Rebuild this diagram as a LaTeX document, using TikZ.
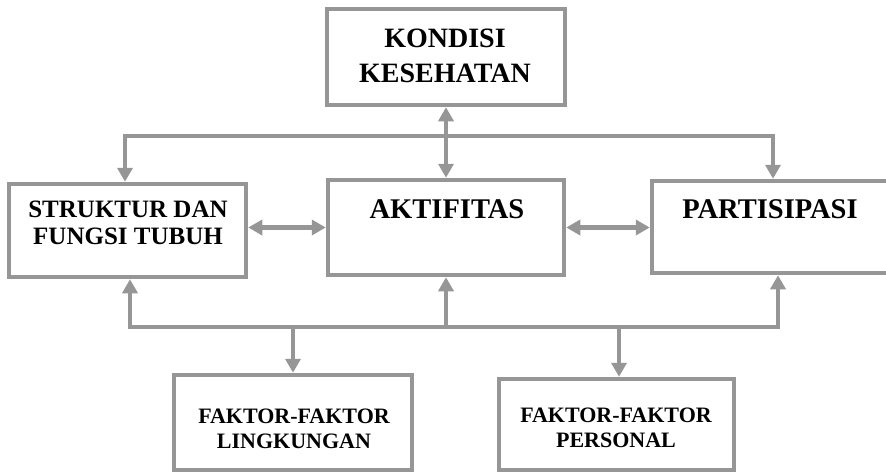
\documentclass[tikz,border=0pt]{standalone}
\usepackage{fontspec}
\setmainfont{Liberation Serif}
\usetikzlibrary{arrows.meta,positioning,calc}
\definecolor{linegray}{RGB}{150,150,150}
\tikzset{
  box/.style={draw=linegray, line width=4.5pt, fill=white, inner sep=0pt},
  boxtext/.style={anchor=north, inner sep=0pt, align=center},
  link/.style={draw=linegray, line width=4.5pt},
  >={Triangle[length=14pt,width=15pt]},
}

\begin{document}
\begin{tikzpicture}[x=1pt,y=-1pt]
\useasboundingbox (0,0) rectangle (886,474);

% boxes
\node[box, minimum width=238pt, minimum height=96pt] (kond) at (446,57) {};
\node[box, minimum width=237pt, minimum height=93pt] (stru) at (127.5,230.5) {};
\node[box, minimum width=236pt, minimum height=95pt] (akt) at (446,227.5) {};
\node[box, minimum width=250pt, minimum height=92pt] (part) at (777,227) {};
\node[box, minimum width=238pt, minimum height=95pt] (ling) at (293,422.5) {};
\node[box, minimum width=235pt, minimum height=91pt] (pers) at (616.5,424.5) {};

% texts
\node[boxtext, font=\bfseries\fontsize{28}{35}\selectfont] (kond-t) at (445,28.5) {KONDISI\\KESEHATAN};
\node[boxtext, font=\bfseries\fontsize{25}{27}\selectfont] (stru-t) at (128,200.5) {STRUKTUR DAN\\FUNGSI TUBUH};
\node[boxtext, font=\bfseries\fontsize{28.5}{34}\selectfont] (akt-t) at (447,199) {AKTIFITAS};
\node[boxtext, font=\bfseries\fontsize{28.5}{34}\selectfont] (part-t) at (770,199) {PARTISIPASI};
\node[boxtext, font=\bfseries\fontsize{22}{25.5}\selectfont] (ling-t) at (294,408.5) {FAKTOR-FAKTOR\\LINGKUNGAN};
\node[boxtext, font=\bfseries\fontsize{22}{25.5}\selectfont] (pers-t) at (616,407.5) {FAKTOR-FAKTOR\\PERSONAL};

% bus ends
\coordinate (tl) at (125,136);
\coordinate (tr) at (773,136);
\coordinate (bl) at (130,327);
\coordinate (br) at (778,327);

% upper connectors
\draw[link,<->] (tl |- stru.north) -- (tl) -- (tr) -- (tr |- part.north);
\draw[link,<->] (kond.south) -- (kond.south |- akt.north);

% side connectors
\draw[link,<->] (akt.west -| stru.east) -- (akt.west);
\draw[link,<->] (akt.east) -- (akt.east -| part.west);

% lower connectors
\draw[link,<->] (bl |- stru.south) -- (bl) -- (br) -- (br |- part.south);
\draw[link,->] (akt.south |- bl) -- (akt.south);
\draw[link,->] (ling.north |- bl) -- (ling.north);
\draw[link,->] (619,327) -- (pers.north -| 619,0);
\end{tikzpicture}
\end{document}
